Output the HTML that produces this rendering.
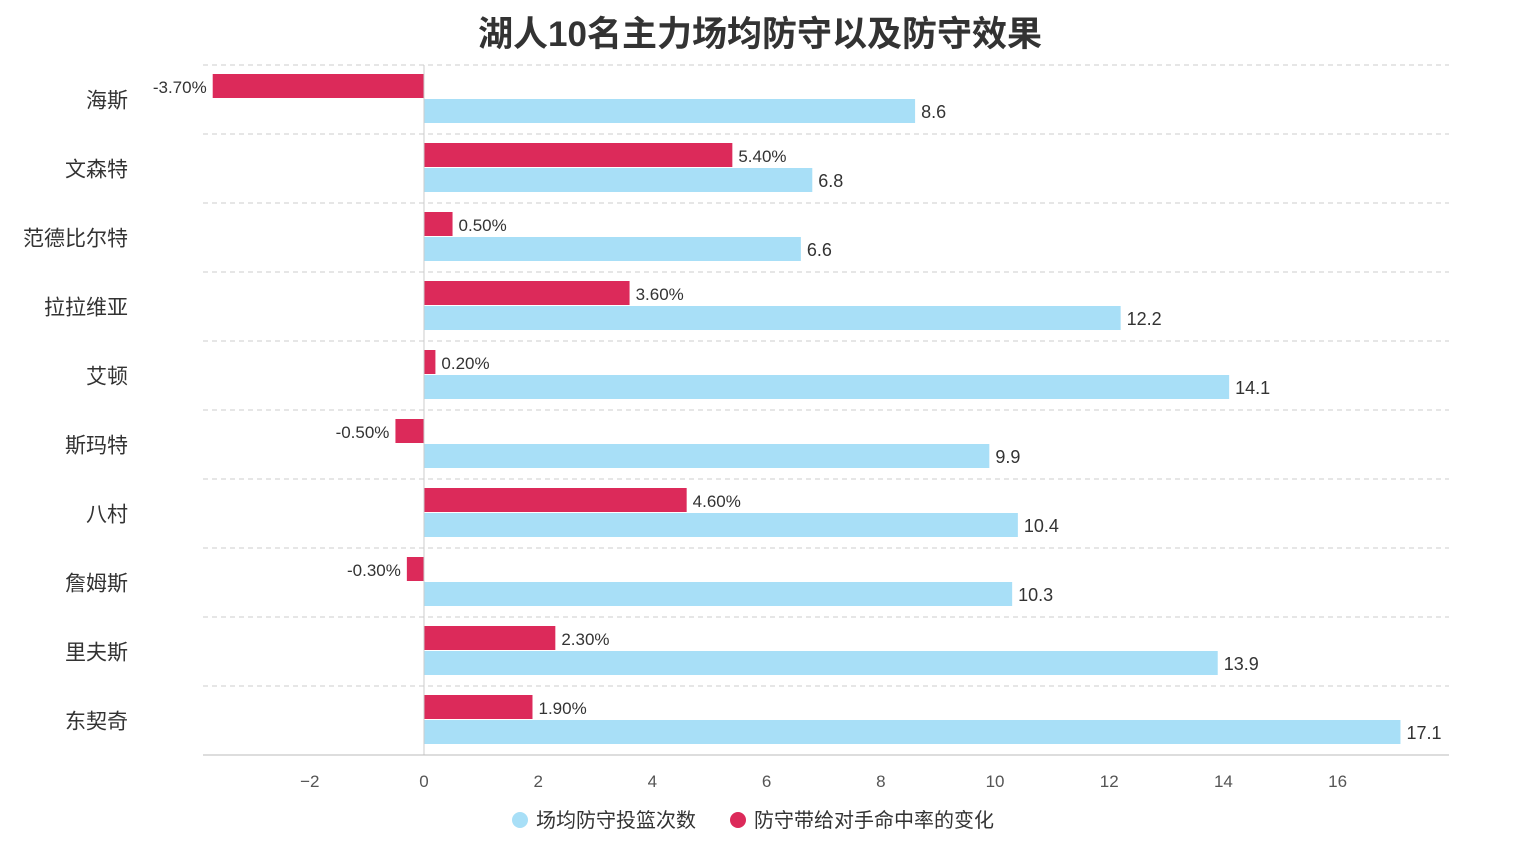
<!DOCTYPE html>
<html><head><meta charset="utf-8">
<style>
html,body{margin:0;padding:0;background:#fff;}
svg text{font-family:"Liberation Sans","Noto Sans CJK SC",sans-serif;}
</style></head>
<body>
<svg id="chart" width="1522" height="856" xmlns="http://www.w3.org/2000/svg">
<text x="760" y="46" text-anchor="middle" font-size="35" font-weight="bold" fill="#333">湖人10名主力场均防守以及防守效果</text>
<g id="grid"></g><g id="bars"></g><g id="axis"></g>
<g>
<g><circle cx="520" cy="820" r="8" fill="#a8dff7"/><text x="536" y="827" font-size="20" fill="#333">场均防守投篮次数</text></g>
<g><circle cx="738" cy="820" r="8" fill="#dc2a5a"/><text x="754" y="827" font-size="20" fill="#333">防守带给对手命中率的变化</text></g>
</g>
</svg>
<script>
const categories=["海斯","文森特","范德比尔特","拉拉维亚","艾顿","斯玛特","八村","詹姆斯","里夫斯","东契奇"];
const shots=[8.6,6.8,6.6,12.2,14.1,9.9,10.4,10.3,13.9,17.1];
const change=[-3.7,5.4,0.5,3.6,0.2,-0.5,4.6,-0.3,2.3,1.9];
const ticks=[-2,0,2,4,6,8,10,12,14,16];
const NS="http://www.w3.org/2000/svg";
const plotLeft=203,plotRight=1449,plotTop=65,plotBottom=755,xmin=-3.87,xmax=17.95;
const xs=v=>plotLeft+(v-xmin)/(xmax-xmin)*(plotRight-plotLeft);
const band=(plotBottom-plotTop)/categories.length;
const numFont='"Noto Sans CJK SC","Liberation Sans",sans-serif';
function mk(tag,attrs,parent,txt){const e=document.createElementNS(NS,tag);for(const k in attrs)e.setAttribute(k,attrs[k]);if(txt!==undefined)e.textContent=txt;document.getElementById(parent).appendChild(e);return e;}
for(let i=0;i<categories.length;i++){
  const y0=plotTop+i*band;
  const g=mk('line',{x1:plotLeft,x2:plotRight,y1:y0,y2:y0,stroke:'#ccc','stroke-dasharray':'5,4'},'grid');
  
  
  const cl=mk('text',{x:128,y:y0+band/2+8,'text-anchor':'end','font-size':21,fill:'#333'},'axis',categories[i]);
  
  
  const x0=xs(0);
  const c=change[i];
  const rb=mk('rect',{x:Math.min(x0,xs(c)),y:y0+9,width:Math.abs(xs(c)-x0),height:24,fill:'#dc2a5a'},'bars');
  
  
  const rl=mk('text',{x:c<0?xs(c)-6:xs(c)+6,y:y0+28,'text-anchor':c<0?'end':'start','font-size':17,fill:'#333','font-family':numFont},'bars',c.toFixed(2)+'%');
  
  
  const s=shots[i];
  const bb=mk('rect',{x:x0,y:y0+34,width:xs(s)-x0,height:24,fill:'#a8dff7'},'bars');
  
  
  const bl=mk('text',{x:xs(s)+6,y:y0+53,'font-size':18,fill:'#333','font-family':numFont},'bars',s.toFixed(1));
  
  
}
const za=mk('line',{x1:xs(0),x2:xs(0),y1:plotTop,y2:plotBottom,stroke:'#ccc'},'axis');


const xa=mk('line',{x1:plotLeft,x2:plotRight,y1:plotBottom,y2:plotBottom,stroke:'#bbb'},'axis');


ticks.forEach(t=>{
  const tl=mk('text',{x:xs(t),y:787,'text-anchor':'middle','font-size':17,fill:'#555','font-family':numFont},'axis',t<0?'−'+(-t):String(t));
  
  
});
</script>
</body></html>
